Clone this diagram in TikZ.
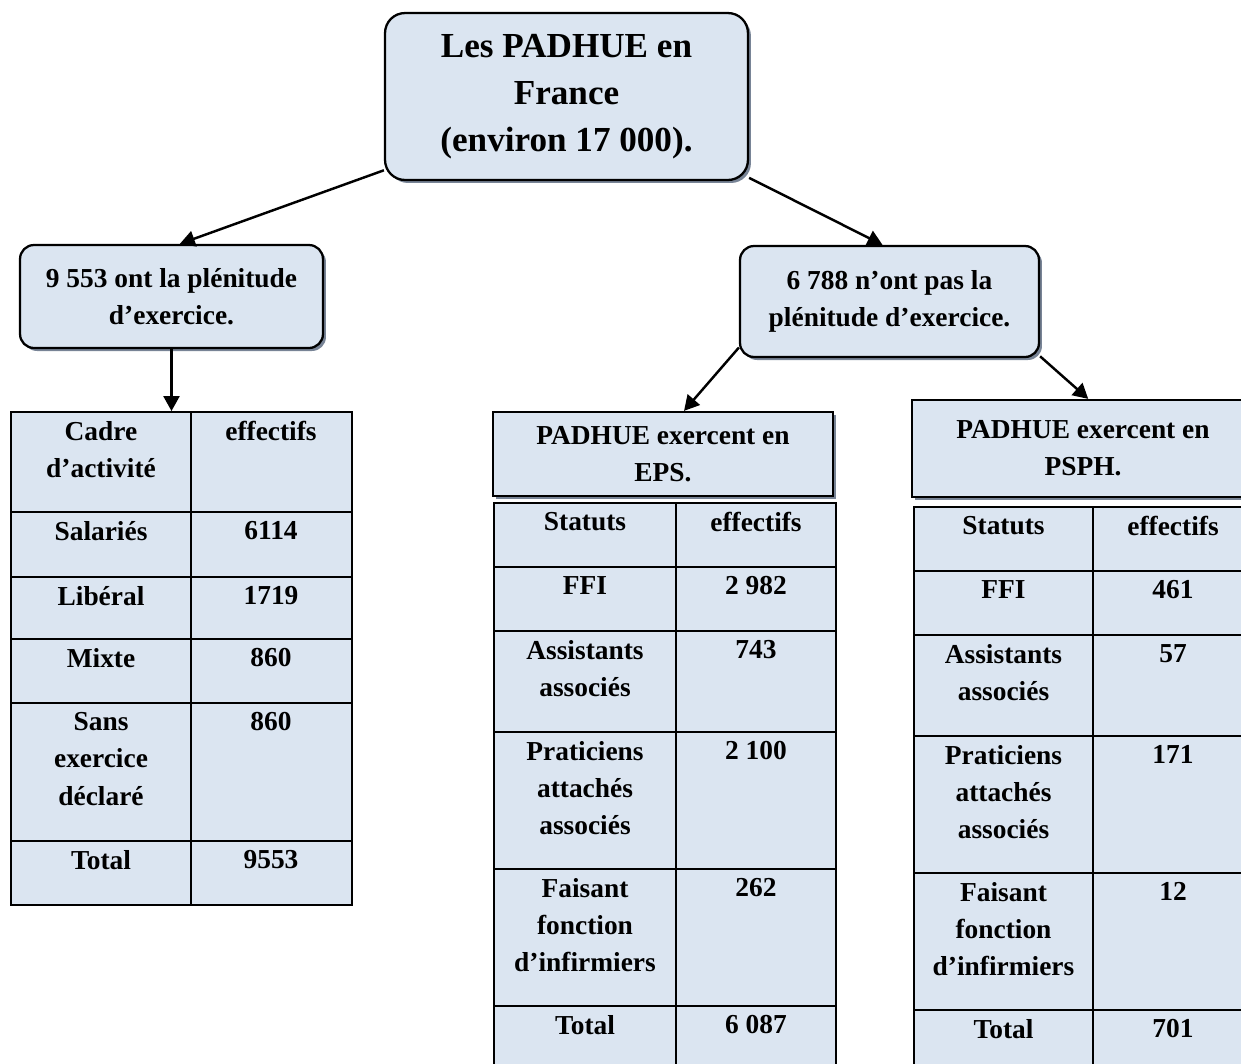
\documentclass[tikz,border=0pt]{standalone}
\usepackage{fontspec}
\setmainfont{Liberation Serif}
\usetikzlibrary{arrows.meta,shadows,fit}
\definecolor{padhueBlue}{RGB}{219,229,241}
\definecolor{padhueShadow}{RGB}{120,132,150}
\newcommand\padhueBig{\fontsize{20}{26.7}\selectfont\bfseries}
\newcommand\padhueText{\fontsize{15.6}{21.2}\selectfont\bfseries}

\begin{document}
\begin{tikzpicture}[
  x=0.02cm, y=-0.02cm,
  shade/.style={
    drop shadow={shadow xshift=0.06cm,shadow yshift=-0.06cm,
      fill=padhueShadow,opacity=1}
  },
  box/.style={
    draw,
    line width=1.3pt,
    fill=padhueBlue,
    rounded corners=0.28cm,
    align=center,
    font=\padhueText,
    shade
  },
  head/.style={
    draw,
    line width=1.3pt,
    fill=padhueBlue,
    align=center,
    font=\padhueText,
    shade
  },
  frame/.style={draw,line width=1.1pt,fill=padhueBlue,inner sep=0pt},
  cell/.style={anchor=north,inner sep=0pt,align=center,font=\padhueText},
  grid/.style={line width=1.1pt},
  arrow/.style={-{Triangle[length=0.3cm,width=0.32cm]},line width=1.4pt}
]
  \useasboundingbox (0,0) rectangle (1241,1063);

  % boxes
  \node[box,rounded corners=0.4cm,font=\padhueBig,
    minimum width=7.26cm,minimum height=3.34cm] (padhue) at (566.5,96.5)
    {\rule{0pt}{10pt}Les PADHUE en\\France\\(environ 17 000).};
  \node[box,minimum width=6.06cm,minimum height=2.06cm] (plein) at (171.5,296.5)
    {9 553 ont la plénitude\\d’exercice.};
  \node[box,minimum width=5.98cm,minimum height=2.22cm] (nonplein) at (889.5,301.5)
    {6 788 n’ont pas la\\plénitude d’exercice.};

  % left table
  \node[frame,fit={(11,412) (352,905)}] (tabcadre) {};
  \draw[grid] (191,412) -- (191,905);
  \foreach \y/\cola/\colb [count=\i] in {412/Cadre\\d’activité/effectifs,
      512/Salariés/6114, 577/Libéral/1719, 639/Mixte/860,
      703/Sans\\exercice\\déclaré/860, 841/Total/9553} {
    \draw[grid] (11,\y) -- (352,\y);
    \node[cell] (cadre-a\i) at (101,\y+9) {\cola};
    \node[cell] (cadre-b\i) at (271,\y+9) {\colb};
  }

  % EPS
  \node[head,minimum width=6.8cm,minimum height=1.68cm] (eps) at (663,454)
    {\rule{0pt}{10pt}PADHUE exercent en\\EPS.};
  \node[frame,fit={(494,503) (836,1080)}] (tabeps) {};
  \draw[grid] (676,503) -- (676,1080);
  \foreach \y/\cola/\colb [count=\i] in {503/Statuts/effectifs,
      567/FFI/2 982, 631/Assistants\\associés/743,
      732/Praticiens\\attachés\\associés/2 100,
      869/Faisant\\fonction\\d’infirmiers/262, 1006/Total/6 087} {
    \draw[grid] (494,\y) -- (836,\y);
    \node[cell] (eps-a\i) at (585,\y+9) {\cola};
    \node[cell] (eps-b\i) at (756,\y+9) {\colb};
  }

  % PSPH
  \node[head,minimum width=6.84cm,minimum height=1.94cm] (psph) at (1083,448.5)
    {PADHUE exercent en\\PSPH.};
  \node[frame,fit={(914,507) (1254,1080)}] (tabpsph) {};
  \draw[grid] (1093,507) -- (1093,1080);
  \foreach \y/\cola/\colb [count=\i] in {507/Statuts/effectifs,
      571/FFI/461, 635/Assistants\\associés/57,
      736/Praticiens\\attachés\\associés/171,
      873/Faisant\\fonction\\d’infirmiers/12, 1010/Total/701} {
    \draw[grid] (914,\y) -- (1254,\y);
    \node[cell] (psph-a\i) at (1003.5,\y+9) {\cola};
    \node[cell] (psph-b\i) at (1173,\y+9) {\colb};
  }

  % arrows
  \draw[arrow] (padhue.202) -- (plein.81);
  \draw[arrow] (padhue.-24) -- (nonplein.97);
  \draw[arrow] (plein.south) -- (plein.south |- tabcadre.north);
  \draw[arrow] (nonplein.197) -- (eps.64);
  \draw[arrow] (nonplein.-20) -- (psph.84);
\end{tikzpicture}
\end{document}
